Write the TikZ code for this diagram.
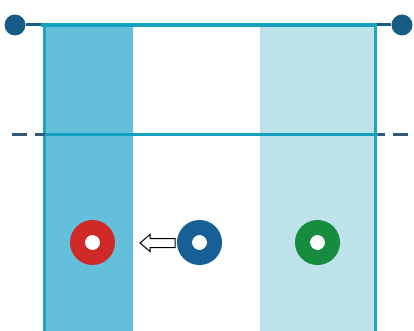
\documentclass[tikz,border=0pt]{standalone}
\begin{document}
\begin{tikzpicture}[x=1pt,y=-1pt,
  ring/.style={circle,draw=#1,line width=15pt,minimum size=30pt,inner sep=0pt,fill=white},
  dotend/.style={circle,fill=dotblue,inner sep=0pt,minimum size=21pt}]
\definecolor{teal1}{RGB}{22,160,192}
\definecolor{tealv}{RGB}{30,168,182}
\definecolor{coldark}{RGB}{100,192,218}
\definecolor{collight}{RGB}{190,226,234}
\definecolor{dotblue}{RGB}{22,92,132}
\definecolor{ringred}{RGB}{208,42,40}
\definecolor{ringblue}{RGB}{22,96,150}
\definecolor{ringgreen}{RGB}{22,140,62}
\definecolor{dashc}{RGB}{50,90,120}
\useasboundingbox (0,0) rectangle (414,331);
% columns
\fill[coldark] (46,27) rectangle (133,331);
\fill[collight] (260,27) rectangle (374,331);
% top line with end dots
\node[dotend] (dl) at (15,25) {};
\node[dotend] (dr) at (402,25) {};
\draw[dotblue,line width=3pt] (dl) -- (dr);
\draw[teal1,line width=4pt] (41,25) -- (377,25);
% verticals
\draw[tealv,line width=3pt] (44.5,25) -- (44.5,331);
\draw[tealv,line width=3pt] (375,25) -- (375,331);
% dashed line
\draw[dashc,line width=3pt] (12,135) -- (27,135);
\draw[dashc,line width=3pt] (35,135) -- (45,135);
\draw[dashc,line width=3pt] (376,135) -- (385,135);
\draw[dashc,line width=3pt] (393,135) -- (408,135);
\draw[teal1,line width=3pt] (45,135) -- (378,135);
% rings
\node[ring=ringred] (r) at (92.5,242.5) {};
\node[ring=ringblue] (b) at (199.5,242.5) {};
\node[ring=ringgreen] (g) at (317.5,242.5) {};
% hollow arrow
\draw[black,line width=1pt,fill=white,line join=miter]
  (140,243) -- (150,234.5) -- (150,238.5) -- (175,238.5) -- (175,247.5) -- (150,247.5) -- (150,251.5) -- cycle;
\end{tikzpicture}
\end{document}
